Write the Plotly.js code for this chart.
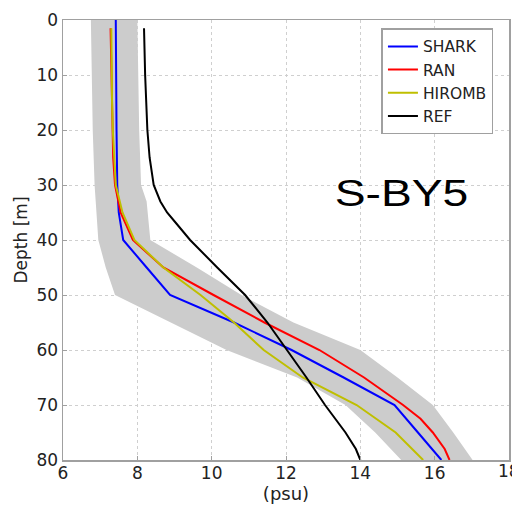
<!DOCTYPE html>
<html>
<head>
<meta charset="utf-8">
<script src="https://cdn.plot.ly/plotly-3.0.1.min.js"></script>
<style>
  html, body { margin: 0; padding: 0; background: #fff; }
  #chart { width: 512px; height: 508px; }
</style>
</head>
<body>
<div id="chart"></div>
<script>
// Gray envelope (min / max)
const bandDepth = [0, 10, 20, 30, 33, 40, 45, 50, 55, 60, 65, 70, 75, 80];
const bandHigh  = [8.0, 8.02, 8.05, 8.1, 8.25, 8.35, 9.6, 10.8, 12.2, 14.0, 15.0, 15.95, 16.5, 17.02];
const bandLow   = [6.75, 6.77, 6.8, 6.85, 6.88, 6.95, 7.15, 7.4, 8.9, 10.4, 12.3, 13.6, 14.4, 15.1];

// SHARK
const sharkDepth = [0, 5, 10, 15, 20, 25, 30, 35, 40, 45, 50, 55, 60, 65, 70, 75, 80];
const sharkSal   = [7.42, 7.42, 7.43, 7.43, 7.44, 7.45, 7.46, 7.5, 7.62, 8.25, 8.88, 10.6, 12.15, 13.55, 14.92, 15.55, 16.18];

// RAN
const ranDepth = [1.5, 5, 10, 15, 20, 25, 30, 35, 40, 45, 50, 55, 60, 65, 70, 72.5, 75, 78, 80];
const ranSal   = [7.28, 7.29, 7.3, 7.31, 7.33, 7.35, 7.4, 7.55, 7.88, 8.7, 10.05, 11.42, 12.9, 14.1, 15.15, 15.62, 15.95, 16.27, 16.4];

// HIROMB
const hirombDepth = [1.5, 5, 10, 15, 20, 25, 30, 35, 40, 45, 50, 55, 60, 65, 70, 75, 80];
const hirombSal   = [7.3, 7.3, 7.31, 7.32, 7.34, 7.37, 7.42, 7.6, 7.92, 8.7, 9.7, 10.6, 11.4, 12.45, 13.9, 14.95, 15.69];

// REF
const refDepth = [1.5, 5, 10, 15, 20, 25, 30, 33, 35, 37, 40, 45, 50, 55, 60, 65, 70, 75, 78, 80];
const refSal   = [8.18, 8.19, 8.21, 8.24, 8.27, 8.33, 8.44, 8.62, 8.8, 9.05, 9.42, 10.15, 10.9, 11.5, 12.03, 12.55, 13.05, 13.6, 13.88, 14.0];

const seriesNames = ['SHARK', 'RAN', 'HIROMB', 'REF'];
const stationLabel = 'S-BY5';
const xTitle = '(psu)';
const yTitle = 'Depth [m]';
const xMax = 18;

const FONT = 'DejaVu Sans, sans-serif';

const traces = [
  {
    x: bandHigh.concat(bandLow.slice().reverse()),
    y: bandDepth.concat(bandDepth.slice().reverse()),
    type: 'scatter', mode: 'lines', fill: 'toself',
    fillcolor: '#cccccc', line: {width: 0, color: 'rgba(0,0,0,0)'},
    showlegend: false, hoverinfo: 'skip'
  },
  {x: sharkSal, y: sharkDepth, name: seriesNames[0], type: 'scatter', mode: 'lines', line: {color: '#0000ff', width: 2}},
  {x: ranSal, y: ranDepth, name: seriesNames[1], type: 'scatter', mode: 'lines', line: {color: '#ff0000', width: 2}},
  {x: hirombSal, y: hirombDepth, name: seriesNames[2], type: 'scatter', mode: 'lines', line: {color: '#bfbf00', width: 2}},
  {x: refSal, y: refDepth, name: seriesNames[3], type: 'scatter', mode: 'lines', line: {color: '#000000', width: 2}}
];

const axisCommon = {
  showline: true, mirror: true, linecolor: '#a0a0a0', linewidth: 1.5,
  showgrid: true, gridcolor: '#cfcfcf', griddash: 'dot', gridwidth: 1,
  zeroline: false, ticks: 'inside', ticklen: 4, tickcolor: '#a0a0a0',
  tickfont: {family: FONT, size: 17, color: '#222222'}
};

const layout = {
  width: 512, height: 508,
  margin: {l: 63, r: 3, t: 20, b: 48},
  paper_bgcolor: '#ffffff', plot_bgcolor: '#ffffff',
  showlegend: true,
  xaxis: Object.assign({}, axisCommon, {
    range: [6, xMax], dtick: 2, tick0: 6, ticklabelstandoff: -3,
    title: {text: xTitle, font: {family: FONT, size: 18, color: '#222222'}, standoff: 2}
  }),
  yaxis: Object.assign({}, axisCommon, {
    range: [80, 0], dtick: 10, tick0: 0,
    title: {text: yTitle, font: {family: FONT, size: 17, color: '#222222'}, standoff: 4}
  }),
  legend: {
    x: 0.714, y: 0.981, xanchor: 'left', yanchor: 'top',
    bgcolor: '#ffffff', bordercolor: '#a0a0a0', borderwidth: 1.5,
    font: {family: FONT, size: 15.5, color: '#222222'},
    itemwidth: 30, tracegroupgap: 0
  },
  annotations: [
    {
      text: stationLabel, xref: 'paper', yref: 'paper', x: 0.758, y: 0.605,
      xanchor: 'center', yanchor: 'middle', showarrow: false,
      font: {family: 'Liberation Sans, Arial, sans-serif', size: 37, color: '#000000'}
    },
    {
      text: String(xMax), xref: 'x', yref: 'paper', x: xMax, y: 0,
      xanchor: 'center', yanchor: 'top', yshift: 1, showarrow: false,
      font: {family: FONT, size: 17, color: '#222222'}
    }
  ]
};

Plotly.newPlot('chart', traces, layout, {staticPlot: true}).then(function () {
  const t = document.querySelector('.annotation-text');
  if (t) {
    t.style.transformBox = 'fill-box';
    t.style.transformOrigin = 'center';
    t.style.transform = 'scaleX(1.25)';
  }
});
</script>
</body>
</html>
